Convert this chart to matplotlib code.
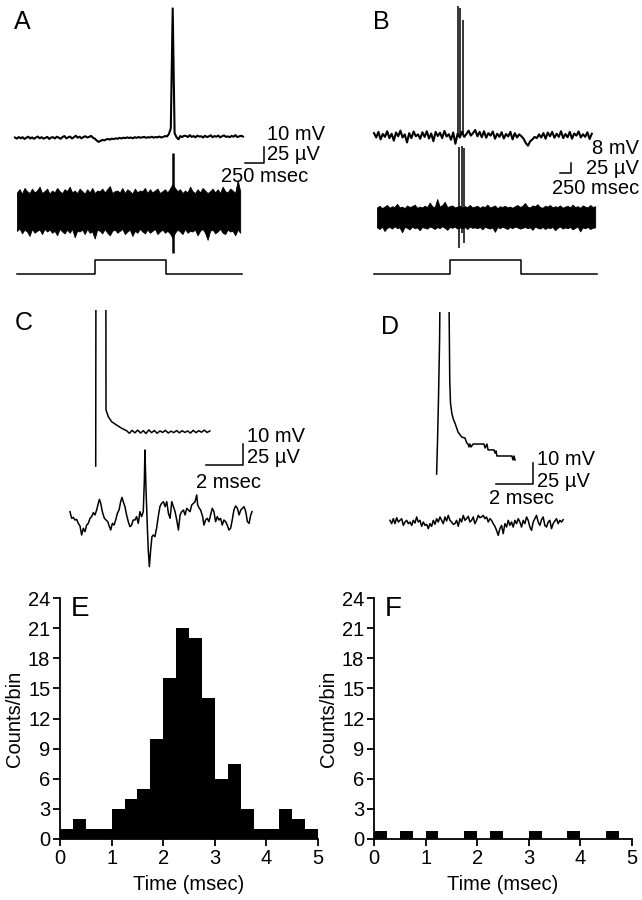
import numpy as np
import matplotlib
matplotlib.use('Agg')
import matplotlib.pyplot as plt

plt.rcParams['font.family'] = ['Liberation Sans', 'DejaVu Sans']

# ---------------- data ----------------
# A: intracellular (mV), one sample per 25 ms
a_ic_dt = 25
a_ic = [0.3, -0.4, 0.6, -0.2, 0.5, -0.6, 0.2, 0.8, -0.3, 0.4,
        -0.5, 0.3, 0.9, -0.2, 0.5, -0.4, 0.1, 0.7, -0.6, 0.3,
        0.5, -0.3, 0.8, 0.2, -0.5, 0.6, 1.2, -0.2, 0.4, 0.9,
        -0.3, 0.5, 1.4, 0.2, 0.8, -0.2, 0.6, 1.1, 0.3, 0.7,
        1.3, 0.2, -0.4, -1.6, -2.4, -1.8, -1.2, -1.5, -0.9, -0.6,
        -1.0, -0.4, -0.7, -0.2, -0.5, 0.1, -0.3, 0.2, -0.1, 0.4,
        0.0, 0.3, -0.2, 0.5, 0.1, 0.6, 0.2, 0.4, 0.7, 0.1,
        0.5, 0.3, 0.8, 0.2, 0.6, 0.4, 0.9, 0.3, 0.7, 1.2,
        1.0, 2.5, 6.0, 81.0, 3.0, 0.5, -0.8, 1.2, 0.6, 1.4,
        1.3, 0.6, 1.8, 0.7, 1.2, 0.4, 1.5, 0.9, 1.1, 0.3,
        1.4, 0.6, 1.0, 1.7, 0.5, 1.2, 0.8, 1.5, 0.4, 1.1,
        1.6, 0.7, 1.0, 0.5, 1.3, 0.8, 1.8, 0.6, 1.0, 1.4, 0.9]
# A: extracellular noise envelope (uV), one sample per 33 ms from 26 ms
a_ex_t0, a_ex_dt = 26, 33
a_ex_hi = [29, 34, 27, 36, 31, 28, 35, 29, 32, 38,
           28, 31, 35, 27, 32, 29, 36, 31, 28, 34,
           31, 38, 29, 32, 28, 35, 31, 27, 34, 29,
           36, 28, 32, 31, 35, 29, 34, 39, 28, 31,
           32, 29, 36, 28, 34, 31, 27, 35, 29, 32,
           31, 36, 28, 34, 29, 32, 35, 28, 31, 34,
           29, 35, 42, 36, 31, 34, 28, 32, 29, 38,
           31, 28, 34, 29, 36, 32, 28, 31, 35, 29,
           34, 28, 38, 31, 29, 35, 32, 28, 48, 31]
a_ex_lo = [-31, -27, -35, -29, -32, -39, -28, -34, -31, -29,
           -36, -28, -32, -29, -34, -31, -38, -28, -32, -35,
           -29, -34, -28, -41, -31, -32, -29, -36, -28, -34,
           -32, -43, -29, -31, -35, -28, -34, -38, -31, -29,
           -34, -31, -28, -36, -32, -29, -39, -31, -34, -28,
           -32, -35, -29, -34, -31, -28, -36, -32, -29, -34,
           -31, -35, -42, -34, -29, -32, -36, -28, -34, -31,
           -32, -29, -38, -31, -28, -34, -45, -31, -29, -35,
           -32, -28, -34, -36, -29, -32, -31, -38, -29, -34]
a_ex_spk_t = [2079]
a_ex_spk_up = [90]
a_ex_spk_dn = [-65]
# A: current step (ms)
a_step_t = [26, 1053, 1053, 1987, 1987, 2987]
a_step_v = [0, 0, 1, 1, 0, 0]

# B: intracellular (mV), one sample per 50 ms
b_ic_dt = 50
b_ic = [1.5, -2.0, 2.5, -3.5, 0.8, -1.5, 3.0, -2.5, 1.0, -4.5,
        2.0, -1.0, 3.5, -2.0, 0.5, -6.0, 1.5, -2.5, 2.8, -1.0,
        0.5, -3.0, 2.2, -1.5, 3.0, -2.8, 1.2, -5.0, 2.5, -0.8,
        1.8, -2.5, 3.2, -1.2, 0.6, -3.8, 2.0, -7.0, 1.0, -2.0,
        2.6, -1.5, 0.8, 3.5, -0.5, 1.5, 4.0, -1.0, 2.5, -1.8,
        3.0, -2.2, 1.5, -0.5, 2.8, -3.0, 1.0, -1.5, 2.2, -2.8,
        0.8, -1.2, 2.5, -3.5, 1.5, -2.0, 0.5, -1.0, -3.0, -6.5,
        -8.5, -5.0, -3.5, -1.5, -2.5, 0.5, -2.0, 1.5, -3.0, 2.0,
        -1.0, 2.5, -2.2, 1.0, -1.5, 3.0, -2.5, 0.8, -1.8, 2.5,
        -3.0, 1.2, -0.5, 2.8, -2.0, 0.6, -1.5, 2.2, -3.2, 1.0]
b_ic_spk_t = [1902, 1955, 2016]
b_ic_spk_v = [103, 102, 92]
# B: extracellular envelope (uV), one sample per 57 ms from 68 ms
b_ex_t0, b_ex_dt = 68, 57
b_ex_hi = [24, 28, 22, 26, 30, 23, 27, 25, 33, 24,
           26, 22, 29, 25, 27, 31, 23, 26, 24, 28,
           25, 36, 27, 24, 45, 26, 30, 38, 25, 27,
           29, 24, 26, 28, 23, 27, 25, 30, 24, 26,
           28, 23, 27, 25, 31, 24, 26, 29, 22, 27,
           25, 28, 24, 26, 23, 27, 30, 25, 28, 35,
           26, 24, 29, 27, 32, 25, 23, 28, 26, 30,
           24, 27, 25, 29, 23, 26, 28, 24, 31, 25,
           27, 23, 29, 26, 24, 30, 25, 27]
b_ex_lo = [-26, -30, -24, -35, -27, -25, -29, -23, -28, -26,
           -38, -25, -27, -31, -24, -28, -26, -33, -25, -27,
           -29, -24, -26, -30, -25, -28, -23, -27, -32, -25,
           -27, -24, -29, -26, -28, -25, -30, -24, -27, -26,
           -28, -25, -31, -24, -27, -29, -26, -37, -25, -28,
           -24, -27, -30, -25, -28, -24, -26, -29, -27, -25,
           -28, -26, -32, -24, -27, -29, -25, -30, -26, -28,
           -25, -33, -27, -24, -29, -26, -28, -25, -31, -27,
           -24, -36, -26, -28, -25, -30, -27, -26]
b_ex_spk_t = [1939, 1992, 2052]
b_ex_spk_up = [175, 178, 172]
b_ex_spk_dn = [-78, -40, -65]
b_step_t = [0, 1727, 1727, 3341, 3341, 5068]
b_step_v = [0, 0, 1, 1, 0, 0]

# C: spike-triggered intracellular (mV) and extracellular (uV), time in ms
c_ic_t = [1.39, 1.40, 1.67, 1.94, 1.946, 2.07, 2.25, 2.52, 2.79, 3.06,
          3.21, 3.36, 3.51, 3.66, 3.81, 3.96, 4.11, 4.26, 4.41, 4.56,
          4.71, 4.86, 5.01, 5.16, 5.31, 5.46, 5.61, 5.76, 5.91, 6.06,
          6.21, 6.36, 6.51, 6.66, 6.81, 6.96, 7.11, 7.26, 7.41, 7.56]
c_ic_v = [-16.2, 62, 100, 62, 10.5, 7.3, 4.9, 3.3, 1.8, 0.6,
          -0.6, 0.8, -0.4, 0.9, -0.5, 0.6, -0.7, 1.0, -0.3, 0.7,
          -0.6, 0.5, -0.2, 0.8, -0.5, 0.4, -0.3, 0.7, -0.4, 0.6,
          -0.2, 0.5, -0.5, 0.8, -0.3, 0.6, -0.1, 0.9, -0.2, 0.5]
c_ex_t = [0.00, 0.09, 0.18, 0.27, 0.36, 0.45, 0.54, 0.63, 0.72, 0.81,
          0.90, 0.99, 1.08, 1.17, 1.26, 1.35, 1.44, 1.53, 1.59, 1.66,
          1.75, 1.80, 1.86, 1.95, 2.04, 2.13, 2.20, 2.29, 2.38, 2.47,
          2.56, 2.65, 2.74, 2.81, 2.88, 2.97, 3.06, 3.15, 3.24, 3.33,
          3.42, 3.51, 3.60, 3.69, 3.78, 3.87, 3.96, 4.02, 4.05, 4.11,
          4.18, 4.23, 4.29, 4.36, 4.43, 4.50, 4.59, 4.68, 4.77, 4.86,
          4.95, 5.05, 5.14, 5.23, 5.32, 5.41, 5.50, 5.59, 5.68, 5.77,
          5.86, 5.95, 6.04, 6.13, 6.22, 6.31, 6.40, 6.49, 6.58, 6.67,
          6.76, 6.85, 6.90, 6.99, 7.06, 7.17, 7.24, 7.33, 7.42, 7.51,
          7.60, 7.69, 7.78, 7.87, 7.96, 8.05, 8.14, 8.23, 8.32, 8.41,
          8.50, 8.59, 8.68, 8.77, 8.86, 8.95, 9.05, 9.14, 9.23, 9.32,
          9.41, 9.50, 9.59, 9.68, 9.77, 9.84]
c_ex_v = [10.4, 2.1, 3.3, 0, 0.8, -4.2, -7.5, -18.8, -10.4, -14.6,
          -6.3, -4.2, 2.1, 4.2, 9.2, 6.3, 12.5, 20.8, 25.8, 20.8,
          10.4, 6.3, 2.1, 0, -2.1, -8.3, -12.5, -4.2, -6.3, 0,
          8.3, 12.5, 22.9, 28.3, 22.9, 16.7, 6.3, -2.1, -8.3, -6.3,
          0, 0, 4.2, -4.2, 10.4, 4.2, 10.4, 50.0, 87.5, 37.5,
          -8.3, -37.5, -58.3, -37.5, -20.8, -18.8, -20.8, -10.4, 4.2, 16.7,
          20.8, 22.9, 16.7, 22.9, 8.3, 2.1, 22.9, 16.7, 10.4, 0,
          -12.5, 6.3, 10.4, 12.5, 6.3, 14.6, 12.5, 10.4, 18.8, 20.8,
          22.9, 31.3, 18.8, 14.6, 12.5, 4.2, -6.3, 0, 2.1, -2.1,
          6.3, 14.6, 10.4, -2.1, 4.2, 0, 2.1, -6.3, 0, -2.1,
          -6.3, -12.5, -10.4, 0, 12.5, 17.5, 14.6, 6.3, 12.5, 14.6,
          16.7, 10.4, -2.1, -4.2, 6.3, 10.4]

# D: same as C for the unconnected pair
d_ic_t = [2.52, 2.57, 2.62, 2.68, 2.70, 2.92, 3.19, 3.21, 3.23, 3.27,
          3.34, 3.42, 3.51, 3.68, 3.88, 4.05, 4.15, 4.22, 4.27, 4.32,
          4.38, 4.49, 4.86, 5.08, 5.14, 5.24, 5.30, 5.62, 5.68, 5.73,
          5.78, 6.59, 6.65, 6.70, 6.76]
d_ic_v = [-8.6, 7.6, 26.7, 55, 74, 98, 74, 55, 36, 25.2,
          20.5, 17.6, 15.7, 11.4, 9.0, 8.6, 6.2, 5.7, 4.3, 5.7,
          4.3, 5.7, 5.7, 5.7, 3.8, 5.7, 2.9, 2.9, 1.4, 2.4,
          0, 0, -1.9, 0, -1.9]
d_ex_dt = 0.09
d_ex = [2.1, -2.1, 4.2, -2.1, 5.4, 0, 2.1, 4.2, -4.2, 0,
        2.1, -2.1, 0, -4.2, 2.1, -1.3, 6.3, 0, 2.1, -5.4,
        0, -4.2, -2.9, -8.3, -2.1, -5.4, 2.1, -2.9, 4.2, 0,
        6.3, 2.1, -2.1, 6.3, 1.3, 8.3, 2.1, 0, -2.9, -2.1,
        2.1, -5.4, 4.2, 0, 8.3, 2.1, 4.2, 7.1, 0, 2.1,
        6.3, -2.1, 2.1, 8.3, 5.4, 6.3, 8.3, 4.2, 6.3, 0,
        4.2, 2.1, -2.1, -5.4, -10.4, -16.7, -8.3, -4.2, -14.6, -2.1,
        -6.3, 2.1, -4.2, 0, -6.3, 2.1, -2.1, 4.2, 0, -6.3,
        2.1, -2.1, 6.3, 2.1, -6.3, -10.4, 0, 4.2, 8.3, 0,
        -4.2, 2.9, 6.3, -4.2, -6.3, 0, 2.1, -8.3, -2.1, 1.3,
        4.2, -2.1, 2.1, 0, 2.9]

# E, F: cross-correlation histograms (0.25 ms bins)
bin_w = 0.25
e_left = np.arange(0, 5, bin_w)
e_counts = [1, 2, 1, 1, 3, 4, 5, 10, 16, 21, 20, 14, 6, 7.5, 3, 1, 1, 3, 2, 1]
f_left = [0, 0.5, 1.0, 1.75, 2.25, 3.0, 3.75, 4.5]
f_counts = [0.8, 0.8, 0.8, 0.8, 0.8, 0.8, 0.8, 0.8]
yticks = [0, 3, 6, 9, 12, 15, 18, 21, 24]
xticks = [0, 1, 2, 3, 4, 5]

# ---------------- drawing ----------------
W, H = 642, 900
fig = plt.figure(figsize=(W / 100, H / 100), dpi=100)
FS = 14.5
LS = 18


def px_axes(l, t, r, b, ox, oy, sx, sy):
    # axes covering pixel box, data origin at pixel (ox, oy), sx/sy px per unit
    ax = fig.add_axes([l / W, 1 - b / H, (r - l) / W, (b - t) / H])
    ax.set_xlim((l - ox) / sx, (r - ox) / sx)
    ax.set_ylim((oy - b) / sy, (oy - t) / sy)
    ax.axis('off')
    return ax


def txt(x, y, s, ha='left', va='center', size=FS):
    fig.text(x / W, 1 - y / H, s, ha=ha, va=va, fontsize=size)


def scalebar(ax, x0, y0, dx, dy):
    ax.plot([x0 - dx, x0, x0], [y0, y0, y0 + dy], color='black', lw=1.1,
            clip_on=False)


k = dict(color='black', lw=1.1)
kt = dict(color='black', lw=1.5)

# panel A
ax = px_axes(0, 0, 320, 290, 15, 138, 0.076, 1.6)
ax.plot(np.arange(len(a_ic)) * a_ic_dt, a_ic, **kt)
scalebar(ax, (264 - 15) / 0.076, (138 - 163) / 1.6, 250, 10)
ax = px_axes(0, 0, 320, 290, 15, 211, 0.076, 0.64)
t = a_ex_t0 + np.arange(len(a_ex_hi)) * a_ex_dt
ax.fill_between(t, a_ex_lo, a_ex_hi, color='black', lw=0.6)
ax.vlines(a_ex_spk_t, a_ex_spk_dn, a_ex_spk_up, color='black', lw=1.8)
ax = px_axes(0, 0, 320, 290, 15, 274, 0.076, 14)
ax.plot(a_step_t, a_step_v, **k)
txt(14, 22, 'A', size=LS)
txt(267, 134, '10 mV')
txt(267, 155, '25 µV')
txt(221, 177, '250 msec')

# panel B
ax = px_axes(320, 0, 642, 290, 374, 135, 0.044, 1.25)
ax.plot(np.arange(len(b_ic)) * b_ic_dt, b_ic, **kt)
ax.vlines(b_ic_spk_t, 0, b_ic_spk_v, color='black', lw=1.1)
scalebar(ax, (571 - 374) / 0.044, (135 - 173) / 1.25, 250, 8)
ax = px_axes(320, 0, 642, 290, 374, 217, 0.044, 0.4)
t = b_ex_t0 + np.arange(len(b_ex_hi)) * b_ex_dt
ax.fill_between(t, b_ex_lo, b_ex_hi, color='black', lw=0.6)
ax.vlines(b_ex_spk_t, b_ex_spk_dn, b_ex_spk_up, color='black', lw=1.1)
ax = px_axes(320, 0, 642, 290, 374, 274, 0.044, 14)
ax.plot(b_step_t, b_step_v, **k)
txt(373, 22, 'B', size=LS)
txt(639, 149, '8 mV', ha='right')
txt(639, 169, '25 µV', ha='right')
txt(639, 188, '250 msec', ha='right')

# panel C
ax = px_axes(0, 310, 320, 580, 70, 432, 18.5, 2.1)
ax.plot(c_ic_t, c_ic_v, **k)
scalebar(ax, (243 - 70) / 18.5, (432 - 465) / 2.1, 2, 10)
ax = px_axes(0, 290, 320, 580, 70, 520, 18.5, 0.8)
ax.plot(c_ex_t, c_ex_v, **k)
txt(15, 323, 'C', size=LS)
txt(247, 437, '10 mV')
txt(247, 458, '25 µV')
txt(196, 482, '2 msec')

# panel D
ax = px_axes(320, 312, 642, 580, 390, 456, 18.5, 2.1)
ax.plot(d_ic_t, d_ic_v, **k)
scalebar(ax, (533 - 390) / 18.5, (456 - 484) / 2.1, 2, 10)
ax = px_axes(320, 290, 642, 580, 390, 522, 18.5, 0.8)
ax.plot(np.arange(len(d_ex)) * d_ex_dt, d_ex, **k)
txt(381, 327, 'D', size=LS)
txt(537, 460, '10 mV')
txt(537, 481, '25 µV')
txt(489, 499, '2 msec')


def hist_axes(l, r, left, counts, letter):
    ax = fig.add_axes([l / W, 1 - 839 / H, (r - l) / W, (839 - 598) / H])
    ax.bar(left, counts, width=bin_w, align='edge', color='black', lw=0)
    ax.set_xlim(0, 5)
    ax.set_ylim(0, 24)
    ax.set_xticks(xticks)
    ax.set_yticks(yticks)
    for s in ['top', 'right']:
        ax.spines[s].set_visible(False)
    for s in ['left', 'bottom']:
        ax.spines[s].set_linewidth(1.3)
    ax.tick_params(direction='out', length=5, width=1.3, labelsize=FS, pad=2)
    ax.set_xlabel('Time (msec)', fontsize=FS, labelpad=5)
    ax.set_ylabel('Counts/bin', fontsize=FS, labelpad=3)
    ax.text(0.04, 1.01, letter, transform=ax.transAxes, fontsize=LS + 2,
            va='top', ha='left')
    return ax


hist_axes(60, 318, e_left, e_counts, 'E')
hist_axes(374, 632, f_left, f_counts, 'F')

fig.savefig('out.png', dpi=100)
